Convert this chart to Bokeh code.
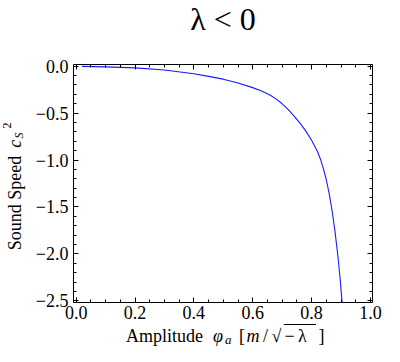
from bokeh.plotting import figure
from bokeh.models import (Range1d, LinearAxis, FixedTicker, Label, BoxAnnotation,
                          CustomJSTickFormatter)
from bokeh.embed import file_html
from bokeh.resources import INLINE

# ---- data ----
phi_a = [0.02, 0.10, 0.20, 0.30, 0.40, 0.45, 0.50, 0.55, 0.60, 0.63,
         0.66, 0.68, 0.70, 0.72, 0.74, 0.76, 0.78, 0.80, 0.82, 0.83,
         0.84, 0.85, 0.86, 0.87, 0.88, 0.89, 0.897, 0.9035]
cs2 = [-0.004, -0.009, -0.020, -0.042, -0.083, -0.110, -0.140, -0.180, -0.230, -0.265,
       -0.312, -0.352, -0.402, -0.462, -0.530, -0.605, -0.690, -0.790, -0.910, -0.990,
       -1.090, -1.210, -1.360, -1.545, -1.770, -2.040, -2.260, -2.510]

x_ticks = [0.0, 0.2, 0.4, 0.6, 0.8, 1.0]
x_tick_labels = ["0.0", "0.2", "0.4", "0.6", "0.8", "1.0"]
x_minor_ticks = [0.05, 0.1, 0.15, 0.25, 0.3, 0.35, 0.45, 0.5, 0.55,
                 0.65, 0.7, 0.75, 0.85, 0.9, 0.95]
y_ticks = [0.0, -0.5, -1.0, -1.5, -2.0, -2.5]
y_tick_labels = ["0.0", "\u22120.5", "\u22121.0", "\u22121.5", "\u22122.0", "\u22122.5"]
y_minor_ticks = [-0.1, -0.2, -0.3, -0.4, -0.6, -0.7, -0.8, -0.9, -1.1, -1.2, -1.3, -1.4,
                 -1.6, -1.7, -1.8, -1.9, -2.1, -2.2, -2.3, -2.4]

title_text = "\u03bb < 0"

# plot box (data) and its place on the canvas (pixels)
X_BOX = (-0.009, 1.007)
Y_BOX = (-2.516, 0.016)
W, H = 384, 346
BOX_L, BOX_R, BOX_T, BOX_B = 73, 372, 64, 302

sx = (X_BOX[1] - X_BOX[0]) / (BOX_R - BOX_L)
x_lo = X_BOX[0] - BOX_L * sx
x_hi = x_lo + W * sx
sy = (Y_BOX[1] - Y_BOX[0]) / (BOX_B - BOX_T)
y_hi = Y_BOX[1] + BOX_T * sy
y_lo = y_hi - H * sy


def fx(px):
    return x_lo + px * sx


def fy(py):
    return y_hi - py * sy


FONT = "Liberation Serif"
K = 0.33  # baseline offset from text middle, in em

p = figure(width=W, height=H, title=None,
           x_range=Range1d(x_lo, x_hi), y_range=Range1d(y_lo, y_hi),
           output_backend="svg", toolbar_location=None, tools="",
           min_border=0)
p.grid.visible = False
p.outline_line_color = None
p.background_fill_color = "white"
p.border_fill_color = "white"

p.line(phi_a, cs2, line_color="#1a1aff", line_width=1.1)


def style_axis(ax, ticks, minor, labels, show, loc, bounds):
    ax.fixed_location = loc
    ax.bounds = bounds
    ax.ticker = FixedTicker(ticks=ticks, minor_ticks=minor)
    ax.major_tick_in = 5
    ax.major_tick_out = 0
    ax.minor_tick_in = 3
    ax.minor_tick_out = 0
    ax.axis_line_color = "black"
    ax.major_tick_line_color = "black"
    ax.minor_tick_line_color = "black"
    ax.major_label_text_font = FONT
    ax.major_label_text_font_size = "18px"
    ax.major_label_text_color = "black"
    if show:
        ax.major_label_overrides = {t: s for t, s in zip(ticks, labels)}
    else:
        ax.formatter = CustomJSTickFormatter(code="return ''")
        ax.major_label_standoff = 0


style_axis(p.xaxis[0], x_ticks, x_minor_ticks, x_tick_labels, True, Y_BOX[0], X_BOX)
p.xaxis[0].major_label_standoff = 3
style_axis(p.yaxis[0], y_ticks, y_minor_ticks, y_tick_labels, True, X_BOX[0], Y_BOX)
p.yaxis[0].major_label_standoff = 5

top_ax = LinearAxis()
style_axis(top_ax, x_ticks, x_minor_ticks, x_tick_labels, False, Y_BOX[1], X_BOX)
p.add_layout(top_ax, "above")
right_ax = LinearAxis()
style_axis(right_ax, y_ticks, y_minor_ticks, y_tick_labels, False, X_BOX[1], Y_BOX)
p.add_layout(right_ax, "right")


def hlab(px, base, text, size=18, style="normal", align="left"):
    # horizontal text, 'base' = wanted baseline (canvas px)
    p.add_layout(Label(x=fx(px), y=fy(base - K * size), text=text,
                       text_font=FONT, text_font_size=f"{size}px", text_font_style=style,
                       text_color="black", text_align=align, text_baseline="middle"))


def vlab(base, py, text, size=18, style="normal"):
    # text rotated 90 deg, 'base' = wanted baseline x (canvas px), py = start
    p.add_layout(Label(x=fx(base - K * size), y=fy(py), text=text,
                       text_font=FONT, text_font_size=f"{size}px", text_font_style=style,
                       text_color="black", text_align="left", text_baseline="middle",
                       angle=90, angle_units="deg"))


# title
hlab(222.5, 29.0, title_text, size=32, align="center")

# x axis label: Amplitude  phi_a [m/sqrt(-lambda)]
BL = 341.0
hlab(125.5, BL, "Amplitude")
hlab(212.5, BL, "\u03c6", style="italic")
hlab(224.5, BL + 2.4, "a", size=13, style="italic")
hlab(238.5, BL, "[")
hlab(246.0, BL, "m", style="italic")
hlab(262.5, BL, "/")
hlab(271.0, BL, "\u221a")
hlab(284.0, BL, "\u2212")
hlab(297.5, BL, "\u03bb")
hlab(318.0, BL, "]")
p.add_layout(BoxAnnotation(left=fx(283.3), right=fx(315.5),
                           top=fy(BL - 17.6), bottom=fy(BL - 16.6),
                           fill_color="black", fill_alpha=1.0, line_color=None))

# y axis label: Sound Speed  c_S^2
vlab(20.7, 249.7, "Sound Speed")
vlab(20.7, 147.3, "c", style="italic")
vlab(22.3, 138.0, "S", size=12, style="italic")
vlab(10.0, 128.0, "2", size=12)

open("out.html", "w").write(file_html(p, INLINE))
